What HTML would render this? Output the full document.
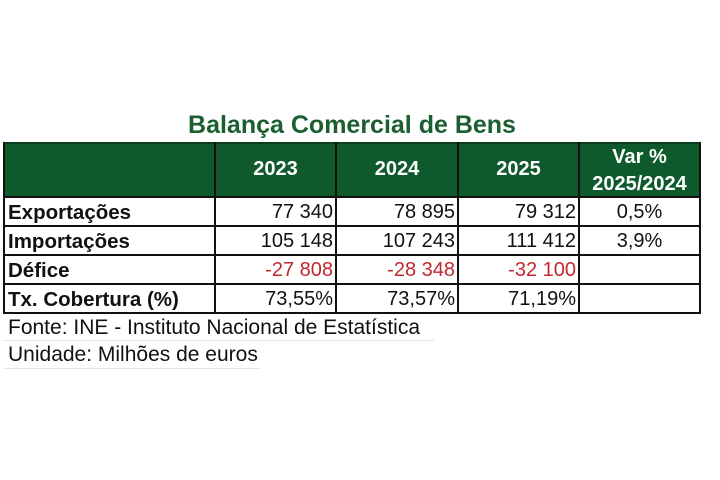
<!DOCTYPE html>
<html><head><meta charset="utf-8"><style>
body{margin:0;width:720px;height:480px;background:#fff;position:relative;font-family:"Liberation Sans",Arial,sans-serif;overflow:hidden}
.a{position:absolute}
.t{left:0;width:704px;top:111px;text-align:center;font-weight:bold;font-size:25px;color:#1b5e30}
.hd{left:4px;top:142px;width:696px;height:55px;background:#0f5a2c}
.c{position:absolute;font-size:20px;color:#111;line-height:29px;white-space:nowrap}
.h{color:#fff;font-weight:bold;font-size:20px;text-align:center;position:absolute}
.vl{position:absolute;width:2px;background:#111}
.hl{position:absolute;height:2px;background:#111;left:4px;width:696px}
.r{text-align:right}
.red{color:#c0282e}
.b{font-weight:bold;font-size:20.5px}
.f{font-size:21px}
</style></head><body>
<div class="a t">Balança Comercial de Bens</div>
<div class="a hd"></div>
<div class="h" style="left:215px;width:121px;top:158px">2023</div>
<div class="h" style="left:336px;width:122px;top:158px">2024</div>
<div class="h" style="left:458px;width:121px;top:158px">2025</div>
<div class="h" style="left:579px;width:121px;top:144px;line-height:27px">Var %<br>2025/2024</div>

<div class="hl" style="top:142px;background:#0a3d1d"></div>
<div class="hl" style="top:196px"></div>
<div class="hl" style="top:225px"></div>
<div class="hl" style="top:254px"></div>
<div class="hl" style="top:283px"></div>
<div class="hl" style="top:312px"></div>
<div class="vl" style="left:3px;top:142px;height:172px"></div>
<div class="vl" style="left:214px;top:142px;height:172px"></div>
<div class="vl" style="left:335px;top:142px;height:172px"></div>
<div class="vl" style="left:457px;top:142px;height:172px"></div>
<div class="vl" style="left:578px;top:142px;height:172px"></div>
<div class="vl" style="left:699px;top:142px;height:172px"></div>

<div class="c b" style="left:8px;top:198px">Exportações</div>
<div class="c b" style="left:8px;top:227px">Importações</div>
<div class="c b" style="left:8px;top:256px">Défice</div>
<div class="c b" style="left:8px;top:285px">Tx. Cobertura (%)</div>

<div class="c r" style="left:215px;width:118px;top:198px">77 340</div>
<div class="c r" style="left:215px;width:118px;top:227px">105 148</div>
<div class="c r red" style="left:215px;width:118px;top:256px">-27 808</div>
<div class="c r" style="left:215px;width:118px;top:285px">73,55%</div>

<div class="c r" style="left:336px;width:119px;top:198px">78 895</div>
<div class="c r" style="left:336px;width:119px;top:227px">107 243</div>
<div class="c r red" style="left:336px;width:119px;top:256px">-28 348</div>
<div class="c r" style="left:336px;width:119px;top:285px">73,57%</div>

<div class="c r" style="left:458px;width:118px;top:198px">79 312</div>
<div class="c r" style="left:458px;width:118px;top:227px">111 412</div>
<div class="c r red" style="left:458px;width:118px;top:256px">-32 100</div>
<div class="c r" style="left:458px;width:118px;top:285px">71,19%</div>

<div class="c" style="left:579px;width:121px;text-align:center;top:198px">0,5%</div>
<div class="c" style="left:579px;width:121px;text-align:center;top:227px">3,9%</div>

<div class="c f" style="left:8px;top:313px">Fonte: INE - Instituto Nacional de Estatística</div>
<div class="a" style="left:4px;top:340px;width:430px;height:1px;background:#e4e4e4"></div>
<div class="c f" style="left:8px;top:340px">Unidade: Milhões de euros</div>
<div class="a" style="left:4px;top:368px;width:256px;height:1px;background:#e4e4e4"></div>
</body></html>
